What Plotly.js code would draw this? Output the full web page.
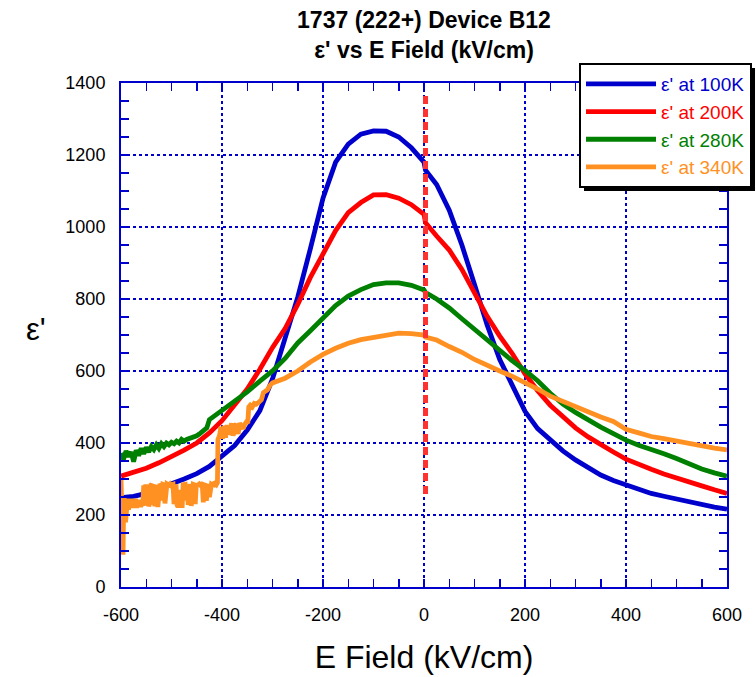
<!DOCTYPE html>
<html>
<head>
<meta charset="utf-8">
<script src="https://cdn.plot.ly/plotly-3.0.1.min.js"></script>
<style>html,body{margin:0;padding:0;background:#fff;}#chart{width:756px;height:677px;}</style>
</head>
<body>
<div id="chart"></div>
<script>
// ---- data ----
const xMain = [-600,-575,-550,-525,-500,-475,-450,-425,-400,-375,-350,-325,-300,-275,-250,-225,-200,-175,-150,-125,-100,-75,-50,-25,0,3,25,50,75,100,125,150,175,200,225,250,275,300,325,350,375,400,425,450,475,500,525,550,575,600];
const eps100 = [248,252,260,272,287,300,315,335,362,393,436,490,578,690,805,940,1080,1180,1230,1258,1267,1266,1250,1220,1180,1158,1118,1047,950,840,728,632,558,488,440,408,378,353,330,311,296,283,271,260,252,244,236,228,222,216];
const eps200 = [308,318,330,345,362,380,400,428,462,505,550,605,665,718,785,860,925,990,1040,1068,1089,1090,1080,1062,1035,1012,975,936,882,815,752,697,648,592,545,505,473,442,417,395,375,355,340,327,314,302,292,281,270,260];

const x280 = [-600,-595,-590,-585,-580,-575,-570,-565,-560,-555,-550,-545,-540,-535,-530,-525,-520,-515,-510,-505,-500,-495,-490,-485,-480,-475,-470,-465,-460,-455,-450,-445,-440,-435,-430,-425,-420,-410,-400,-390,-375,-350,-325,-300,-275,-250,-225,-200,-175,-150,-125,-100,-75,-50,-25,0,3,25,50,75,100,125,150,175,200,225,250,275,300,325,350,375,400,425,450,475,500,525,550,575,600];
const eps280 = [372,355,378,362,375,348,380,365,385,370,388,375,390,382,395,385,398,390,400,395,402,398,405,400,410,405,410,412,415,418,420,425,432,438,442,465,470,482,492,502,515,542,572,600,635,678,712,748,782,808,826,840,845,845,838,825,818,800,775,745,716,684,656,628,602,573,538,508,485,464,444,426,408,394,383,370,357,342,328,317,308];

const x340 = [
  -600,-599,-598,-597,-596,-595,-594,-593,-591,-589,
  -587,-585,-583,-581,-579,-577,-575,-573,-571,-569,
  -567,-565,-563,-561,-559,-557,-555,-553,-551,-549,
  -547,-545,-543,-541,-539,-537,-535,-533,-531,-529,
  -527,-525,-523,-521,-519,-517,-515,-513,-511,-509,
  -507,-505,-503,-501,-499,-497,-495,-493,-491,-489,
  -487,-485,-483,-481,-479,-477,-475,-473,-471,-469,
  -467,-465,-463,-461,-459,-457,-455,-453,-451,-449,
  -447,-445,-443,-441,-439,-437,-435,-433,-431,-429,
  -427,-425,-423,-421,-419,-417,-415,-413,-411,-409,
  -408,-405,-402,-399,-396,-393,-390,-387,-384,-381,-378,-375,-372,-368,-365,-362,-358,-355,-352,-349,
  -347,-344,-340,-336,-332,-328,-325,-322,-318,-314,-310,-305,-300,
  -275,-250,-225,-200,-175,-150,-125,-100,-75,-50,-25,0,3,25,50,75,100,125,150,175,200,225,250,275,300,325,350,375,400,425,450,475,500,525,550,575,600];
const eps340 = [
  300,230,160,240,90,200,250,235,180,225,
  245,215,238,222,245,220,238,226,245,220,
  235,228,242,222,236,225,282,226,285,230,
  284,224,236,283,286,228,285,224,282,284,
  222,280,286,283,240,285,284,232,283,286,
  284,283,286,282,284,285,230,284,285,228,
  222,232,224,270,220,284,283,285,240,285,
  228,283,286,225,284,285,284,230,282,285,
  284,286,283,285,282,235,284,283,240,285,
  286,250,284,285,283,286,284,288,285,290,
  410,420,445,412,448,415,450,425,430,455,420,448,452,425,455,450,440,452,458,455,
  500,505,500,510,508,512,515,520,540,545,548,560,567,
  580,600,625,646,663,677,687,694,700,705,704,700,694,686,668,652,632,615,600,585,568,550,530,515,500,487,472,460,438,428,418,412,405,399,392,386,381];

// vertical marker (dashed) at E = 0
const markerX = [3,3];
const markerY = [258,1367];

const seriesNames = ["\u03b5' at 100K","\u03b5' at 200K","\u03b5' at 280K","\u03b5' at 340K"];
const xTickVals = [-600,-400,-200,0,200,400,600];
const yTickVals = [0,200,400,600,800,1000,1200,1400];

// ---- styling ----
const AX = 'rgb(0,0,204)';
const NARROW = '"Liberation Sans Narrow", "Arial Narrow", "Liberation Sans", Arial, sans-serif';
const REG = '"Liberation Sans", Arial, sans-serif';
const colors = ['rgb(0,0,204)','rgb(255,0,0)','rgb(0,128,0)','rgb(255,145,35)'];
const LW = 4.8;

const traces = [
  {x:xMain, y:eps100, name:seriesNames[0], mode:'lines', line:{color:colors[0], width:LW}},
  {x:xMain, y:eps200, name:seriesNames[1], mode:'lines', line:{color:colors[1], width:LW}},
  {x:x280, y:eps280, name:seriesNames[2], mode:'lines', line:{color:colors[2], width:LW}},
  {x:x340, y:eps340, name:seriesNames[3], mode:'lines', line:{color:colors[3], width:LW}},
  {x:markerX, y:markerY, mode:'lines', showlegend:false, hoverinfo:'skip',
   line:{color:'rgb(255,50,50)', width:5, dash:'8px,5px'}},
  {x:[], y:[], xaxis:'x2', yaxis:'y2', mode:'lines', showlegend:false, hoverinfo:'skip'}
];

function axisBase(){
  return {
    showline:true, linecolor:AX, linewidth:2, mirror:false,
    ticks:'inside', ticklen:8, tickcolor:AX, tickwidth:1.5,
    showgrid:true, gridcolor:AX, griddash:'dot', gridwidth:1.2,
    zeroline:false,
    tickfont:{family:NARROW, size:18, color:'#000'},
    minor:{dtick:50, ticks:'inside', ticklen:8, tickcolor:AX, tickwidth:1.5, showgrid:false}
  };
}
const xaxis = Object.assign(axisBase(), {
  range:[-600,600], tickvals:xTickVals, ticktext:xTickVals.map(String), ticklabelstandoff:10,
  title:{text:'E Field (kV/cm)', font:{family:NARROW, size:32, color:'#000'}, standoff:22}
});
const yaxis = Object.assign(axisBase(), {
  range:[0,1400], tickvals:yTickVals, ticktext:yTickVals.map(String), ticklabelstandoff:10
});
const xaxis2 = Object.assign(axisBase(), {
  overlaying:'x', side:'top', anchor:'y', range:[-600,600], tickvals:xTickVals,
  showticklabels:false, showgrid:false
});
const yaxis2 = Object.assign(axisBase(), {
  overlaying:'y', side:'right', anchor:'x', range:[0,1400], tickvals:yTickVals,
  showticklabels:false, showgrid:false
});

const layout = {
  width:756, height:677,
  margin:{l:121, r:29, t:83, b:90, autoexpand:false},
  paper_bgcolor:'#fff', plot_bgcolor:'#fff',
  font:{family:NARROW, color:'#000'},
  title:{text:"<b>1737 (222+) Device B12</b><br><b>\u03b5' vs E Field (kV/cm)</b>",
         xref:'paper', x:0.5, xanchor:'center', yref:'container', y:0.959, yanchor:'middle',
         font:{family:NARROW, size:23, color:'#000'}},
  xaxis:xaxis, yaxis:yaxis, xaxis2:xaxis2, yaxis2:yaxis2,
  showlegend:true,
  legend:{x:0.7558, y:1.0397, xanchor:'left', yanchor:'top',
          bgcolor:'#fff', bordercolor:'#000', borderwidth:2,
          font:{family:REG, size:19}, itemwidth:70, tracegroupgap:0},
  annotations:[
    {text:"\u03b5'", xref:'paper', yref:'paper', x:-0.16, y:0.51, showarrow:false,
     font:{family:REG, size:31, color:'#000'}}
  ],
  shapes:[
    {type:'rect', xref:'paper', yref:'paper', x0:0.765, x1:1.047, y0:0.776, y1:1.028,
     fillcolor:'#000', line:{width:0}, layer:'above'}
  ]
};

const gd = document.getElementById('chart');
Plotly.newPlot(gd, traces, layout, {displayModeBar:false, staticPlot:true}).then(function(){
  // drop shadow behind the legend box, 4px to the right and below
  const bg = gd.querySelector('.legend .bg');
  if (bg) {
    const r = bg.getBoundingClientRect(), o = gd.getBoundingClientRect();
    const L = 121, T = 83, W = 606, H = 504, off = 4;
    const x0 = (r.left - o.left + off - L) / W, x1 = (r.right - o.left + off - L) / W;
    const y1 = (T + H - (r.top - o.top + off)) / H, y0 = (T + H - (r.bottom - o.top + off)) / H;
    return Plotly.relayout(gd, {'shapes[0].x0':x0, 'shapes[0].x1':x1, 'shapes[0].y0':y0, 'shapes[0].y1':y1});
  }
}).then(function(){
  document.querySelectorAll('.legend .traces').forEach(function(g, i){
    const t = g.querySelector('text.legendtext');
    if (t && colors[i]) t.style.fill = colors[i];
  });
});
</script>
</body>
</html>
